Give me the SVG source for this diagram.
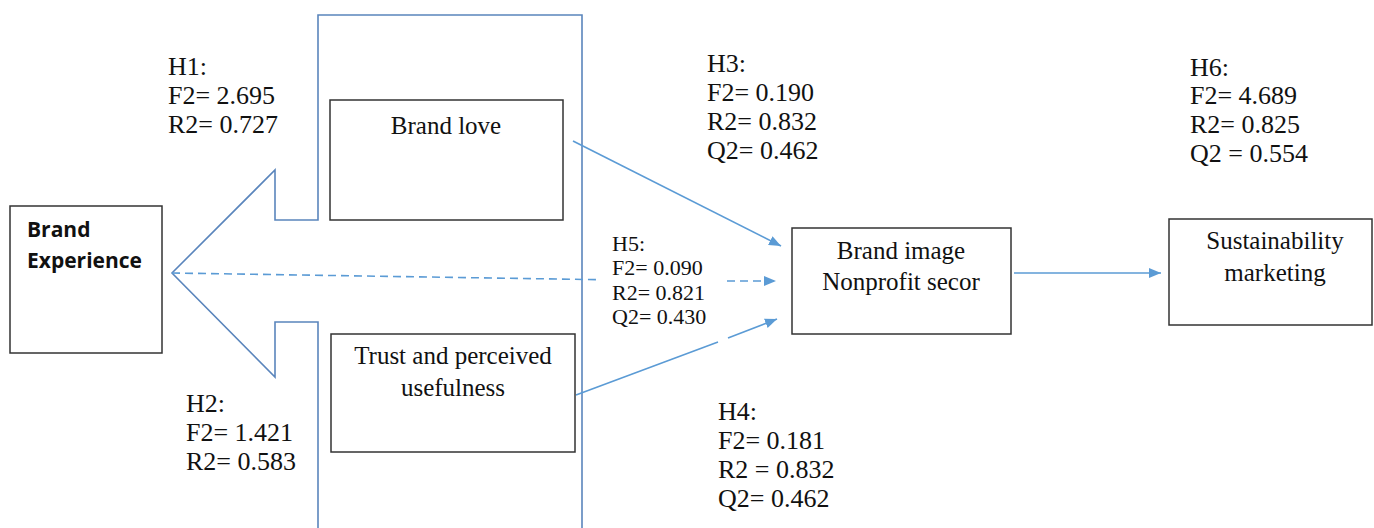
<svg xmlns="http://www.w3.org/2000/svg" width="1374" height="528" viewBox="0 0 1374 528">
<style>
.box{fill:#fff;stroke:#333;stroke-width:1.5}
.t{font-family:"Liberation Serif","Times New Roman",serif;font-size:25px;fill:#111}
.lab{font-family:"Liberation Serif","Times New Roman",serif;font-size:26px;fill:#111}
.lab5{font-family:"Liberation Serif","Times New Roman",serif;font-size:22px;fill:#111}
.bold{font-family:"Open Sans","Liberation Sans",sans-serif;font-size:21px;font-weight:bold;fill:#111}
.con{fill:none;stroke:#5b9bd5;stroke-width:1.6}
.big{fill:none;stroke:#5a85bc;stroke-width:1.6}
</style>
<defs>
<marker id="ah" viewBox="0 0 12 10" refX="12" refY="5" markerWidth="12" markerHeight="10" markerUnits="userSpaceOnUse" orient="auto">
<path d="M0,0 L12,5 L0,10 Z" fill="#5b9bd5"/>
</marker>
</defs>
<g id="big-arrow">
<path class="big" d="M318,528 L318,322 L275,322 L275,377 L172,273 L275,170 L275,220 L318,220 L318,15 L582,15 L582,528"/>
</g>
<g id="connectors">
<line class="con" x1="573" y1="141" x2="781" y2="246" marker-end="url(#ah)"/>
<line class="con" x1="576" y1="395" x2="718" y2="342"/>
<line class="con" x1="728" y1="338" x2="777" y2="319" marker-end="url(#ah)"/>
<line class="con" x1="172" y1="273" x2="600" y2="279.7" stroke-dasharray="8,5"/>
<line class="con" x1="727" y1="281" x2="776" y2="281" stroke-dasharray="8,5" marker-end="url(#ah)"/>
<line class="con" x1="1014" y1="273" x2="1161" y2="273" marker-end="url(#ah)"/>
</g>
<g id="brand-experience">
<rect class="box" x="10" y="206" width="152" height="147"/>
<text class="bold" x="27" y="237">Brand</text>
<text class="bold" x="27" y="268">Experience</text>
</g>
<g id="brand-love">
<rect class="box" x="330" y="100" width="233" height="120"/>
<text class="t" x="446" y="134" text-anchor="middle">Brand love</text>
</g>
<g id="trust">
<rect class="box" x="331" y="334" width="244" height="118"/>
<text class="t" x="453" y="364" text-anchor="middle">Trust and perceived</text>
<text class="t" x="453" y="396" text-anchor="middle">usefulness</text>
</g>
<g id="brand-image">
<rect class="box" x="792" y="228" width="219" height="106"/>
<text class="t" x="901" y="259" text-anchor="middle">Brand image</text>
<text class="t" x="901" y="290" text-anchor="middle">Nonprofit secor</text>
</g>
<g id="sustainability">
<rect class="box" x="1169" y="219" width="203" height="106"/>
<text class="t" x="1275" y="249" text-anchor="middle">Sustainability</text>
<text class="t" x="1275" y="281" text-anchor="middle">marketing</text>
</g>
<g id="label-h1">
<text class="lab" x="168" y="75">H1:</text>
<text class="lab" x="168" y="104">F2= 2.695</text>
<text class="lab" x="168" y="133">R2= 0.727</text>
</g>
<g id="label-h2">
<text class="lab" x="186" y="412">H2:</text>
<text class="lab" x="186" y="441">F2= 1.421</text>
<text class="lab" x="186" y="470">R2= 0.583</text>
</g>
<g id="label-h3">
<text class="lab" x="707" y="72">H3:</text>
<text class="lab" x="707" y="101">F2= 0.190</text>
<text class="lab" x="707" y="130">R2= 0.832</text>
<text class="lab" x="707" y="159">Q2= 0.462</text>
</g>
<g id="label-h4">
<text class="lab" x="718" y="420">H4:</text>
<text class="lab" x="718" y="449">F2= 0.181</text>
<text class="lab" x="718" y="478">R2 = 0.832</text>
<text class="lab" x="718" y="507">Q2= 0.462</text>
</g>
<g id="label-h5">
<text class="lab5" x="612" y="251">H5:</text>
<text class="lab5" x="612" y="275">F2= 0.090</text>
<text class="lab5" x="612" y="300">R2= 0.821</text>
<text class="lab5" x="612" y="324">Q2= 0.430</text>
</g>
<g id="label-h6">
<text class="lab" x="1190" y="76">H6:</text>
<text class="lab" x="1190" y="104">F2= 4.689</text>
<text class="lab" x="1190" y="133">R2= 0.825</text>
<text class="lab" x="1190" y="162">Q2 = 0.554</text>
</g>
</svg>
